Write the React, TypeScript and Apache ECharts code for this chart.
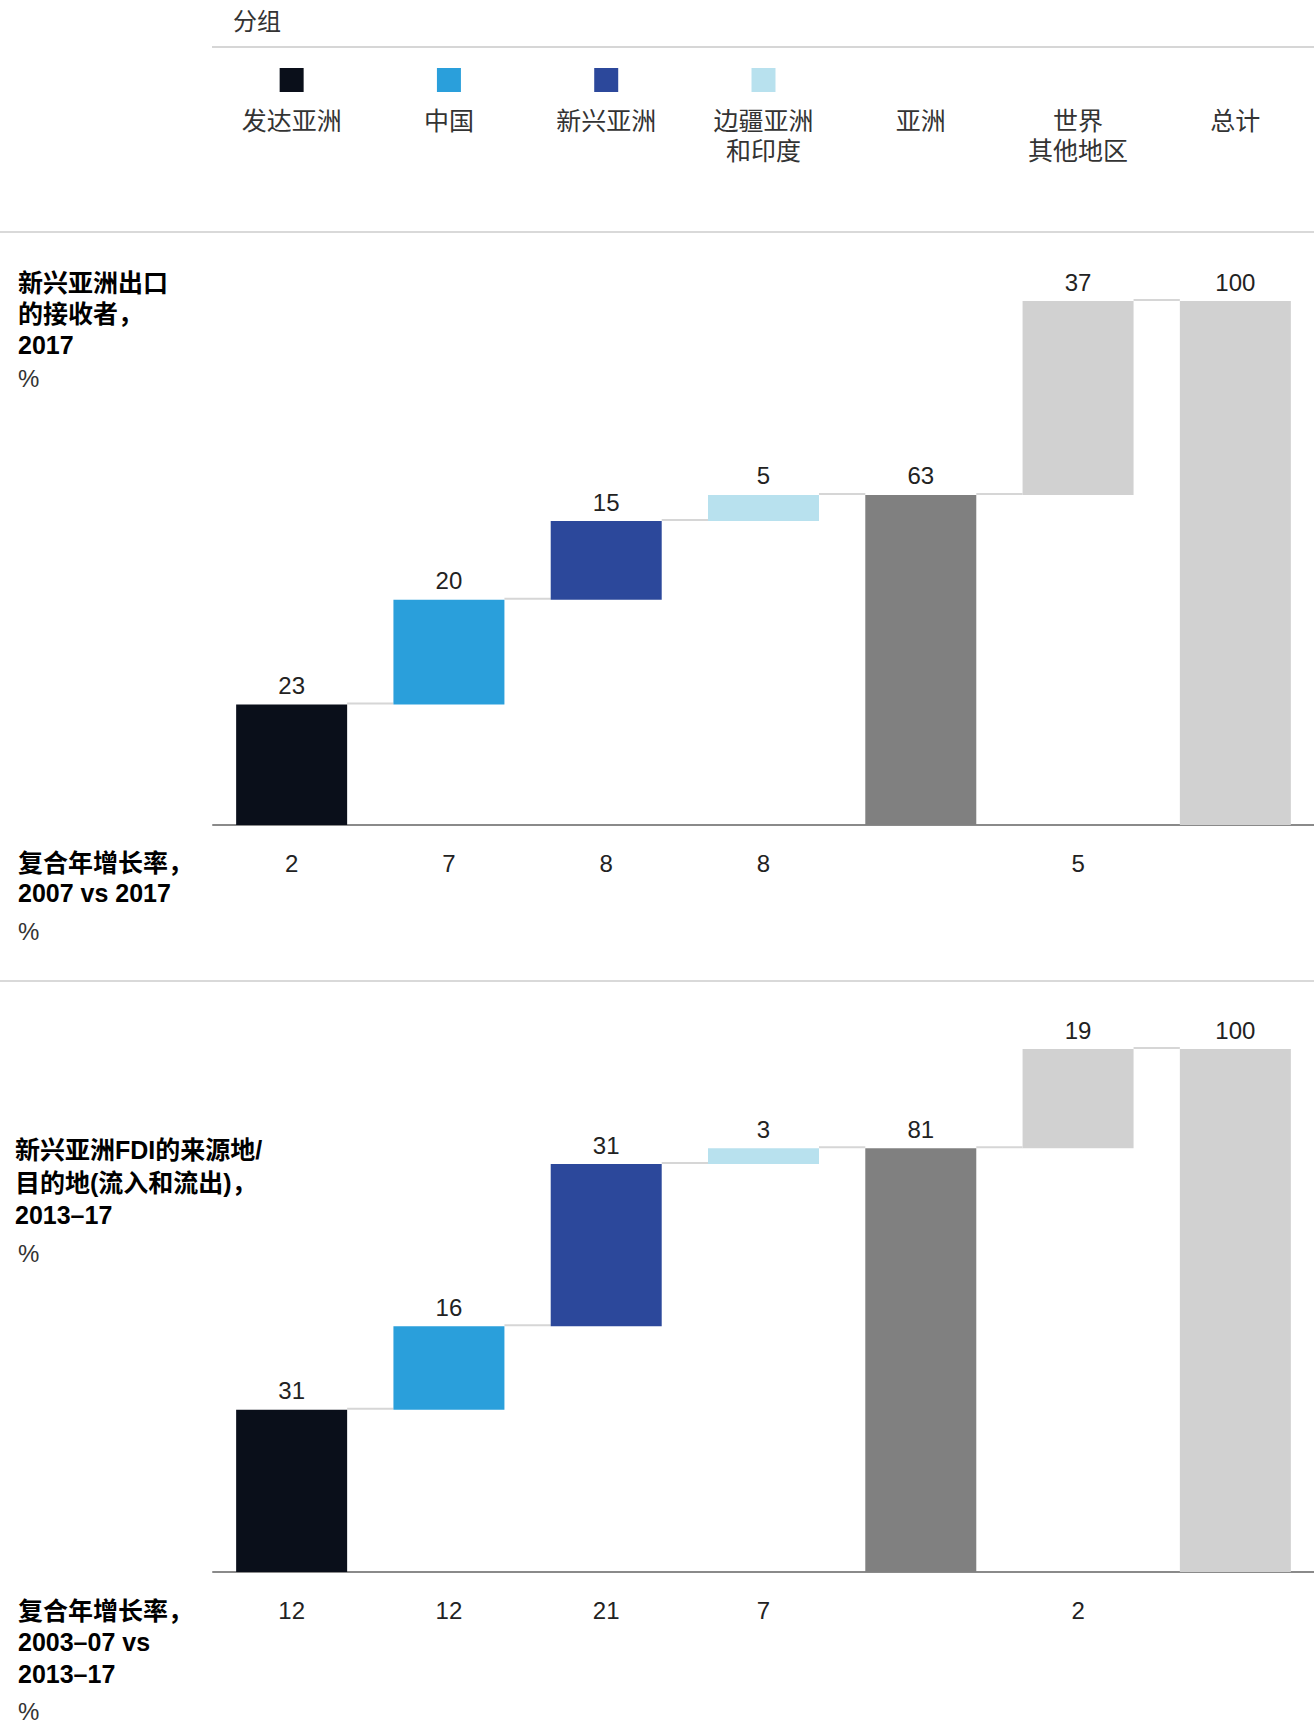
import React, { useEffect, useRef } from "react";
import * as echarts from "echarts";

const categories = ["发达亚洲", "中国", "新兴亚洲", "边疆亚洲\n和印度", "亚洲", "世界\n其他地区", "总计"];
const isTotal = [false, false, false, false, true, false, true];
const barColors = ["#0a0f1a", "#2a9fdb", "#2c489b", "#b8e1ee", "#808080", "#d1d1d1", "#d1d1d1"];
const legendCount = 4;

const exportValues = [23, 20, 15, 5, 63, 37, 100];
const exportCagr = ["2", "7", "8", "8", "", "5", ""];
const fdiValues = [31, 16, 31, 3, 81, 19, 100];
const fdiCagr = ["12", "12", "21", "7", "", "2", ""];

const FONT = "'Liberation Sans', 'Noto Sans CJK SC', sans-serif";
const BAR_W = 111;

function bases(values: number[]) {
  let running = 0;
  return values.map((v, i) => {
    if (isTotal[i]) {
      running = v;
      return 0;
    }
    const b = running;
    running += v;
    return b;
  });
}

function waterfallSeries(values: number[], idx: number) {
  const b = bases(values);
  const levels = values.map((v, i) => b[i] + v).slice(0, values.length - 1);
  return [
    {
      type: "bar",
      xAxisIndex: idx,
      yAxisIndex: idx,
      stack: "s" + idx,
      barWidth: BAR_W,
      silent: true,
      itemStyle: { color: "transparent" },
      data: b,
    },
    {
      type: "bar",
      xAxisIndex: idx,
      yAxisIndex: idx,
      stack: "s" + idx,
      barWidth: BAR_W,
      data: values.map((v, i) => ({ value: v, itemStyle: { color: barColors[i] } })),
      label: {
        show: true,
        position: "top",
        distance: 7,
        fontSize: 24,
        fontFamily: FONT,
        color: "#222",
      },
    },
    {
      type: "custom",
      xAxisIndex: idx,
      yAxisIndex: idx,
      silent: true,
      data: levels.map((l, i) => [i, l]),
      renderItem: (params: any, api: any) => {
        const i = api.value(0);
        const lvl = api.value(1);
        const p1 = api.coord([i, lvl]);
        const p2 = api.coord([i + 1, lvl]);
        const half = BAR_W / 2;
        return {
          type: "line",
          shape: { x1: p1[0] + half, y1: p1[1] - 1, x2: p2[0] - half, y2: p2[1] - 1 },
          style: { stroke: "#d6d6d6", lineWidth: 2 },
        };
      },
    },
  ];
}

function xAxisFor(idx: number, cagr: string[]) {
  return {
    type: "category",
    gridIndex: idx,
    data: categories,
    axisLine: { show: true, lineStyle: { color: "#8a8a8a", width: 2 } },
    axisTick: { show: false },
    axisLabel: {
      interval: 0,
      formatter: (_v: string, i: number) => cagr[i],
      fontSize: 24,
      fontFamily: FONT,
      color: "#222",
      margin: 26,
    },
  };
}

function textEl(x: number, y: number, text: string, bold: boolean, lineHeight = 31) {
  return {
    type: "text",
    x,
    y,
    style: {
      text,
      font: (bold ? "bold 25px " : "24px ") + FONT,
      fill: bold ? "#000" : "#333",
      lineHeight,
      verticalAlign: "top",
      align: "left",
    },
  };
}

export default function App() {
  const ref = useRef<HTMLDivElement>(null);
  useEffect(() => {
    document.body.style.margin = "0";
    const chart = echarts.init(ref.current!, null, { renderer: "svg" });
    const option: any = {
      animation: false,
      textStyle: { fontFamily: FONT },
      grid: [
        { left: 213, right: 0, top: 301, height: 524 },
        { left: 213, right: 0, top: 1049, height: 523 },
        { left: 213, right: 0, top: 68, height: 24 },
      ],
      xAxis: [
        xAxisFor(0, exportCagr),
        xAxisFor(1, fdiCagr),
        {
          type: "category",
          gridIndex: 2,
          data: categories,
          axisLine: { show: false },
          axisTick: { show: false },
          axisLabel: {
            interval: 0,
            fontSize: 25,
            fontFamily: FONT,
            color: "#333",
            lineHeight: 30,
            verticalAlign: "top",
            margin: 14,
          },
        },
      ],
      yAxis: [
        { type: "value", gridIndex: 0, min: 0, max: 100, show: false },
        { type: "value", gridIndex: 1, min: 0, max: 100, show: false },
        { type: "value", gridIndex: 2, min: 0, max: 1, show: false },
      ],
      series: [
        ...waterfallSeries(exportValues, 0),
        ...waterfallSeries(fdiValues, 1),
        {
          type: "scatter",
          xAxisIndex: 2,
          yAxisIndex: 2,
          symbol: "rect",
          symbolSize: [24, 24],
          silent: true,
          data: categories.slice(0, legendCount).map((_c, i) => ({
            value: [i, 0.5],
            itemStyle: { color: barColors[i], opacity: 1 },
          })),
        },
      ],
      graphic: [
        {
          type: "text",
          x: 233,
          y: 9,
          style: { text: "分组", font: "24px " + FONT, fill: "#333", verticalAlign: "top" },
        },
        { type: "line", shape: { x1: 212, y1: 47, x2: 1314, y2: 47 }, style: { stroke: "#d6d6d6", lineWidth: 2 } },
        { type: "line", shape: { x1: 0, y1: 232, x2: 1314, y2: 232 }, style: { stroke: "#d9d9d9", lineWidth: 2 } },
        { type: "line", shape: { x1: 0, y1: 981, x2: 1314, y2: 981 }, style: { stroke: "#d9d9d9", lineWidth: 2 } },
        textEl(18, 267, "新兴亚洲出口\n的接收者，\n2017", true),
        textEl(18, 363, "%", false),
        textEl(18, 848, "复合年增长率，\n2007 vs 2017", true, 30),
        textEl(18, 916, "%", false),
        textEl(15, 1134, "新兴亚洲FDI的来源地/\n目的地(流入和流出)，\n2013–17", true, 32.5),
        textEl(18, 1238, "%", false),
        textEl(18, 1595, "复合年增长率，\n2003–07 vs\n2013–17", true, 31.5),
        textEl(18, 1696, "%", false),
      ],
    };
    chart.setOption(option);
    return () => chart.dispose();
  }, []);
  return <div ref={ref} style={{ width: 1314, height: 1724 }} />;
}
